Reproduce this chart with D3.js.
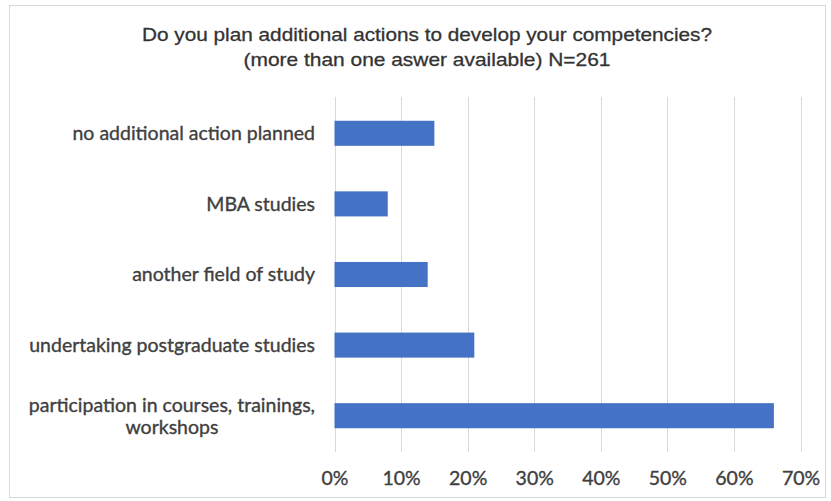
<!DOCTYPE html>
<html>
<head>
<meta charset="utf-8">
<script src="https://cdn.jsdelivr.net/npm/d3@7"></script>
<style>
  html, body { margin: 0; padding: 0; background: #fff; }
  svg { display: block; }
</style>
</head>
<body>
<svg id="chart" width="831" height="501"></svg>
<script>
// Survey answers, top to bottom
const categories = [
  "no additional action planned",
  "MBA studies",
  "another field of study",
  "undertaking postgraduate studies",
  "participation in courses, trainings,|workshops"
];
const shares = [0.15, 0.08, 0.14, 0.21, 0.66];
const tickValues = [0, 0.1, 0.2, 0.3, 0.4, 0.5, 0.6, 0.7];
const titleLines = [
  "Do you plan additional actions to develop your competencies?",
  "(more than one aswer available) N=261"
];

const svg = d3.select("#chart");
const labelFont = "Lato, 'Open Sans', sans-serif";
const labelSize = "19.5px";
const textColor = "#404040";

// outer chart frame
svg.append("rect")
  .attr("x", 9.5).attr("y", 5.5)
  .attr("width", 816).attr("height", 492)
  .attr("fill", "#fff")
  .attr("stroke", "#d9d9d9");

const x = d3.scaleLinear().domain([0, 0.7]).range([334.5, 800.5]);
const y = d3.scaleBand().domain(categories).range([98, 451])
  .paddingInner(0.645).paddingOuter(0.3225);

// vertical gridlines
svg.append("g").selectAll("line")
  .data(tickValues)
  .join("line")
  .attr("x1", d => Math.round(x(d)) + 0.5)
  .attr("x2", d => Math.round(x(d)) + 0.5)
  .attr("y1", 97).attr("y2", 452)
  .attr("stroke", "#d9d9d9")
  .attr("stroke-width", 1);

// bars
svg.append("g").selectAll("rect")
  .data(categories)
  .join("rect")
  .attr("x", x(0))
  .attr("y", d => y(d))
  .attr("width", (d, i) => x(shares[i]) - x(0))
  .attr("height", y.bandwidth())
  .attr("fill", "#4472c4");

// x axis tick labels
const xAxis = d3.axisBottom(x)
  .tickValues(tickValues)
  .tickFormat(d3.format(".0%"))
  .tickSize(0)
  .tickPadding(0);
const gx = svg.append("g").attr("transform", "translate(0,470)").call(xAxis);
gx.select(".domain").remove();
gx.selectAll("text")
  .attr("dy", "0.78em")
  .attr("fill", textColor)
  .attr("stroke", textColor)
  .attr("stroke-width", 0.35)
  .style("font-family", labelFont)
  .style("font-size", labelSize);

// category labels (multi-line labels split on "|")
const labels = svg.append("g");
categories.forEach(c => {
  const lines = c.split("|");
  const cy = y(c) + y.bandwidth() / 2;
  const lineH = 22;
  const t = labels.append("text")
    .attr("fill", textColor)
    .attr("stroke", textColor)
    .attr("stroke-width", 0.35)
    .style("font-family", labelFont)
    .style("font-size", labelSize);
  if (lines.length === 1) {
    t.attr("x", 315).attr("y", cy).attr("dy", "0.35em")
      .attr("text-anchor", "end").text(c);
  } else {
    // two centred lines, right-aligned as a block
    const widths = lines.map(l => {
      const tmp = labels.append("text")
        .style("font-family", labelFont)
        .style("font-size", labelSize).text(l);
      const w = tmp.node().getComputedTextLength();
      tmp.remove();
      return w;
    });
    const blockW = Math.max(...widths);
    const cx = 315 - blockW / 2;
    t.attr("text-anchor", "middle");
    lines.forEach((l, k) => {
      t.append("tspan")
        .attr("x", cx)
        .attr("y", cy + (k - (lines.length - 1) / 2) * lineH)
        .attr("dy", "0.35em")
        .text(l);
    });
  }
});

// title, two centred lines stretched slightly wider
const titleWidths = [570, 367];
titleLines.forEach((l, k) => {
  svg.append("text")
    .attr("x", 427)
    .attr("y", 41 + k * 25)
    .attr("text-anchor", "middle")
    .attr("fill", "#333")
    .attr("stroke", "#333")
    .attr("stroke-width", 0.3)
    .attr("textLength", titleWidths[k])
    .attr("lengthAdjust", "spacingAndGlyphs")
    .style("font-family", "'Liberation Sans', Arial, sans-serif")
    .style("font-size", "19px")
    .text(l);
});
</script>
</body>
</html>
